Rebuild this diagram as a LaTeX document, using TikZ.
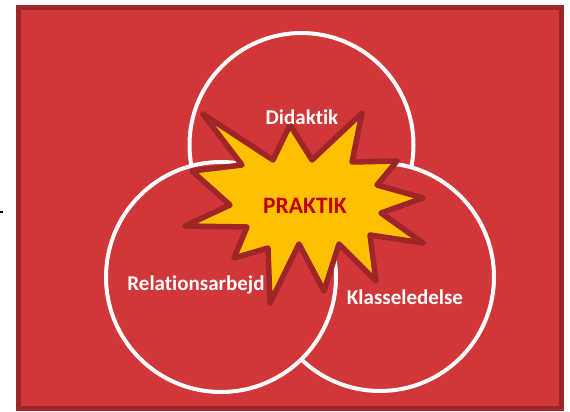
\documentclass[tikz,border=0pt]{standalone}
\usepackage{fontspec}
\setmainfont{Carlito}[Ligatures={NoCommon,NoRare,NoDiscretionary,NoContextual}]
\definecolor{bgred}{RGB}{209,54,57}
\definecolor{darkred}{RGB}{158,38,40}
\definecolor{staryellow}{RGB}{255,192,0}
\definecolor{praktikred}{RGB}{192,0,0}
\tikzset{
  venn/.style={circle,fill=bgred,draw=white,line width=4pt,inner sep=0pt},
  lbl/.style={text=white,font=\bfseries\fontsize{21}{24}\selectfont,inner sep=0pt},
  starline/.style={fill=staryellow,draw=darkred,line width=5.5pt,line join=round}
}
\begin{document}
\begin{tikzpicture}[x=1pt,y=-1pt]
\useasboundingbox (0,0) rectangle (570,412);
\fill[white] (0,0) rectangle (570,412);
\fill[black] (0,210.5) rectangle (2.5,213);
\draw[fill=bgred,draw=darkred,line width=5pt] (18,8) rectangle (561,408);
% circles: top, right, left
\node[venn,minimum size=224pt] (top) at (301.5,145) {};
\node[venn,minimum size=228pt] (right) at (380,277) {};
\node[venn,minimum size=230pt] (left) at (221,277) {};
% star
\draw[starline] (203,114) -- (273,160) -- (290,125) -- (312,160) -- (362,113)
  -- (352,162) -- (397,161) -- (377,185) -- (423,198) -- (381,213)
  -- (423,243) -- (370,235) -- (376,281) -- (339,244) -- (324,291)
  -- (299,244) -- (270,303) -- (268,248) -- (234,258) -- (247,227)
  -- (185,226) -- (230,205) -- (192,171) -- (242,165) -- cycle;
\node[lbl] (did) at (302,117) {Didaktik};
\node[lbl] (rel) at (196,285) {Relationsarbejd};
\node[lbl] (kla) at (405,297) {Klasseledelse};
\node[lbl,text=praktikred,font=\bfseries\fontsize{23.5}{26}\selectfont] (pra) at (305,206) {PRAKTIK};
\end{tikzpicture}
\end{document}
